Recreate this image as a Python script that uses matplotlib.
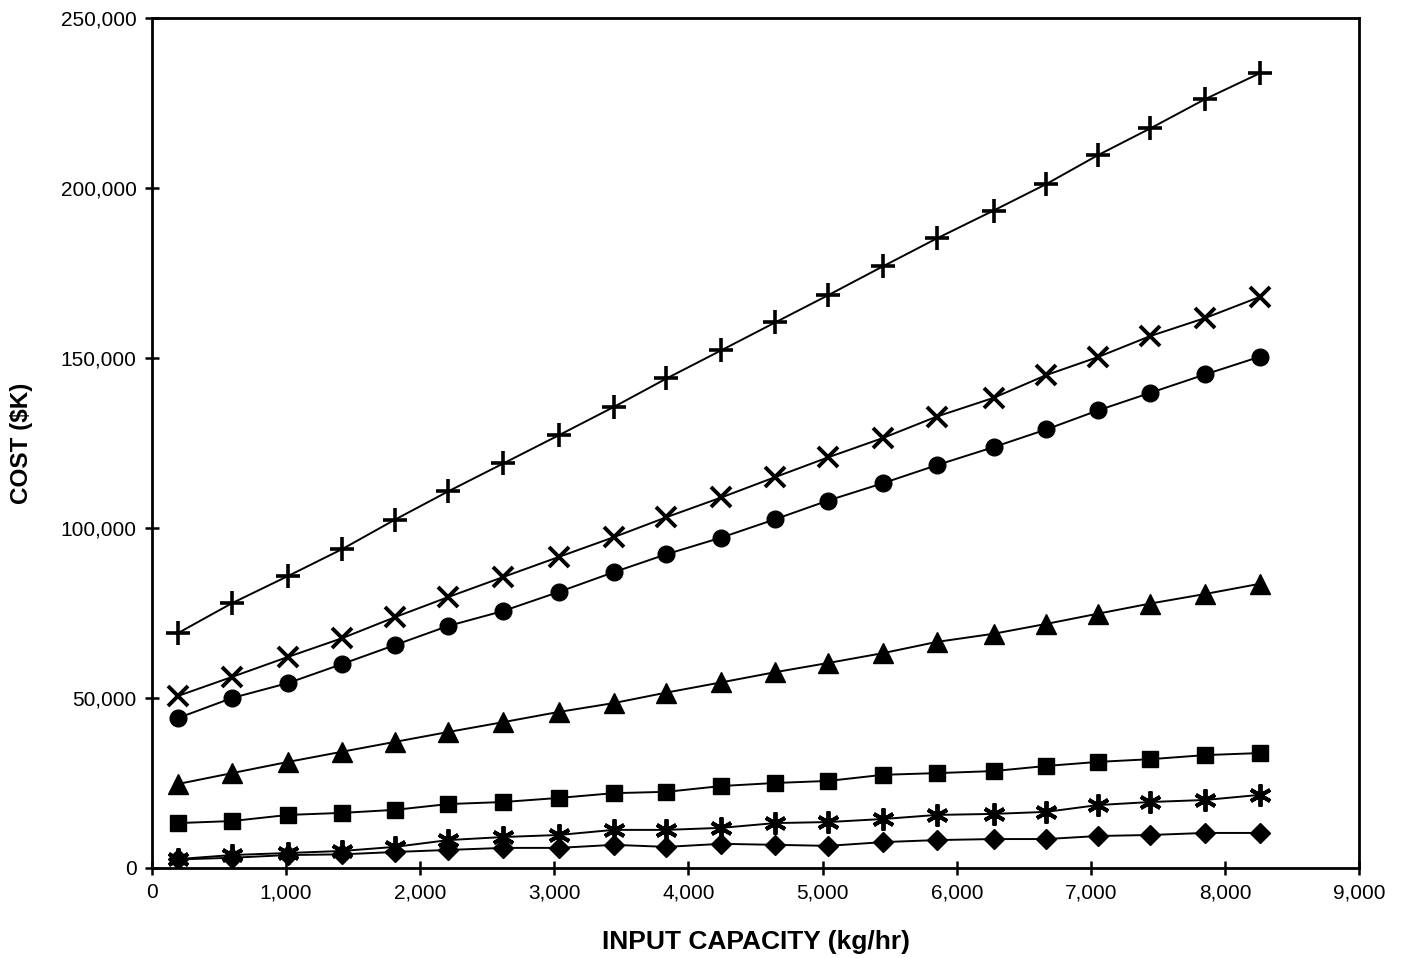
import matplotlib
matplotlib.use("Agg")
import matplotlib.pyplot as plt
from matplotlib.ticker import FuncFormatter, MultipleLocator

plt.rcParams['font.family'] = ['Liberation Sans', 'DejaVu Sans']

capacity = [194, 597, 1015, 1418, 1813, 2209, 2619, 3033, 3442, 3836, 4245,
            4647, 5041, 5450, 5851, 6274, 6667, 7052, 7444, 7852, 8259]

cost_plus = [69.1, 77.9, 85.9, 93.8, 102.5, 110.8, 119.0, 127.3, 135.6, 144.0, 152.3,
             160.5, 168.5, 177.0, 185.2, 193.4, 201.2, 209.7, 217.6, 226.2, 233.8]
cost_x = [50.6, 56.2, 62.1, 67.6, 73.8, 79.7, 85.6, 91.5, 97.3, 103.2, 109.0,
          115.0, 120.8, 126.5, 132.8, 138.3, 145.0, 150.3, 156.5, 161.8, 168.0]
cost_circle = [44.1, 50.0, 54.4, 60.0, 65.6, 71.2, 75.6, 81.2, 87.0, 92.3, 97.2,
               102.6, 108.1, 113.2, 118.5, 123.8, 129.0, 134.6, 139.8, 145.2, 150.4]
cost_triangle = [24.7, 27.9, 31.2, 34.2, 37.1, 40.0, 42.9, 45.9, 48.5, 51.6, 54.6,
                 57.6, 60.3, 63.2, 66.5, 68.9, 71.8, 74.8, 77.8, 80.6, 83.6]
cost_square = [13.2, 13.8, 15.6, 16.2, 17.1, 18.8, 19.4, 20.6, 22.0, 22.4, 24.1,
               25.0, 25.6, 27.4, 27.9, 28.5, 30.0, 31.2, 32.0, 33.2, 33.8]
cost_asterisk = [2.6, 3.8, 4.4, 5.0, 6.2, 8.2, 9.1, 9.7, 11.2, 11.2, 11.8,
                 13.2, 13.5, 14.4, 15.6, 15.9, 16.5, 18.5, 19.4, 20.0, 21.5]
cost_diamond = [2.5, 3.0, 3.8, 4.0, 4.7, 5.3, 5.9, 5.9, 6.8, 6.2, 7.1,
                6.8, 6.5, 7.6, 8.2, 8.5, 8.5, 9.4, 9.7, 10.3, 10.3]

series = [
    (cost_plus, '+', 17, 2.6),
    (cost_x, 'x', 15, 2.8),
    (cost_circle, 'o', 12, 1.0),
    (cost_triangle, '^', 14, 1.0),
    (cost_square, 's', 11.5, 1.0),
    (cost_asterisk, (6, 2, 0), 16, 2.8),
    (cost_diamond, 'D', 10.5, 1.0),
]

fig = plt.figure(figsize=(14.07, 9.58), dpi=100)
ax = fig.add_axes([0.108, 0.094, 0.858, 0.887])

for vals, mk, ms, mew in series:
    ax.plot(capacity, [v * 1000 for v in vals], color='black', lw=1.4,
            marker=mk, markersize=ms, markeredgewidth=mew,
            markerfacecolor='black', markeredgecolor='black')

ax.set_xlim(0, 9000)
ax.set_ylim(0, 250000)
ax.xaxis.set_major_locator(MultipleLocator(1000))
ax.yaxis.set_major_locator(MultipleLocator(50000))
fmt = FuncFormatter(lambda v, p: f"{int(v):,}")
ax.xaxis.set_major_formatter(fmt)
ax.yaxis.set_major_formatter(fmt)
ax.tick_params(direction='inout', length=10, width=1.8, labelsize=15, pad=6)
for s in ax.spines.values():
    s.set_linewidth(2)

ax.set_xlabel('INPUT CAPACITY (kg/hr)', fontsize=19, fontweight='bold', labelpad=20)
ax.set_ylabel('COST ($K)', fontsize=17.5, fontweight='bold', labelpad=20)

fig.savefig('out.png', dpi=100)
